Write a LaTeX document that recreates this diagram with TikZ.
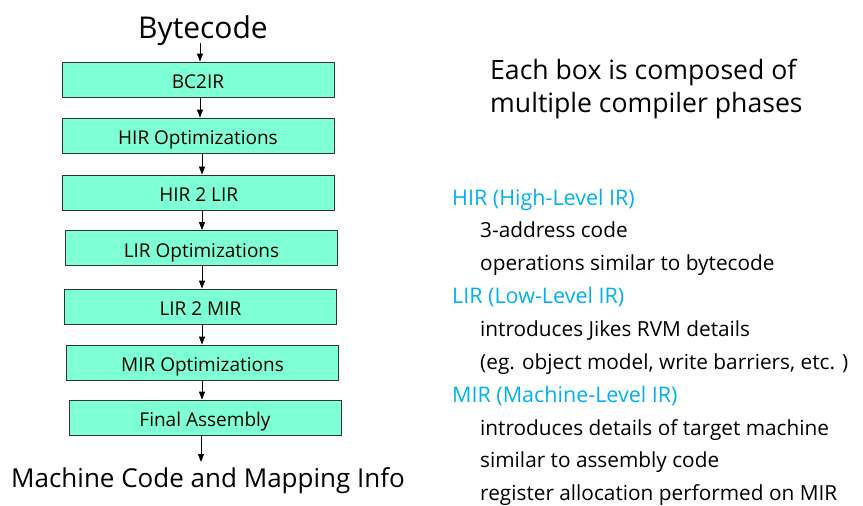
\documentclass[tikz,border=0pt]{standalone}
\usepackage{fontspec}
\setmainfont{Open Sans}
\usetikzlibrary{arrows.meta}
\definecolor{boxfill}{RGB}{127,255,212}
\definecolor{irblue}{RGB}{0,176,240}
\tikzset{
  phase/.style={draw=black!80, line width=0.8pt, fill=boxfill, minimum width=272pt,
    minimum height=35pt, inner sep=0pt, text height=22pt, text depth=4pt,
    font=\fontsize{19}{19}\selectfont},
  flow/.style={-{Triangle[length=8pt,width=6pt]}, line width=0.8pt},
  big/.style={inner sep=0pt, anchor=base, font=\fontsize{30}{30}\selectfont},
  note/.style={inner sep=0pt, anchor=base west, font=\fontsize{26.6}{26.6}\selectfont},
  irhead/.style={inner sep=0pt, anchor=base west, text=irblue, font=\fontsize{21.5}{21.5}\selectfont},
  irline/.style={inner sep=0pt, anchor=base west, font=\fontsize{20.8}{20.8}\selectfont},
}
\begin{document}
\begin{tikzpicture}[x=1pt, y=-1pt]
\useasboundingbox (0,0) rectangle (863,506);

% left column: compiler pipeline
\node[big] (bc) at (203,38) {Bytecode};
\node[phase] (b1) at (198,79.5) {BC2IR};
\node[phase] (b2) at (198,135.5) {HIR Optimizations};
\node[phase] (b3) at (198.7,192.5) {HIR 2 LIR};
\node[phase] (b4) at (201.5,248) {LIR Optimizations};
\node[phase] (b5) at (200.5,306.5) {LIR 2 MIR};
\node[phase] (b6) at (202.5,362.5) {MIR Optimizations};
\node[phase] (b7) at (205,417.5) {Final Assembly};
\node[big, font=\fontsize{26}{26}\selectfont] (mc) at (208,487) {Machine Code and Mapping Info};

\coordinate (a0) at (200,43);
\coordinate (ax) at (202,0);
\coordinate (aend) at (201,462);

\draw[flow] (a0) -- (b1.north -| a0);
\draw[flow] (b1.south -| a0) -- (b2.north -| a0);
\draw[flow] (b2.south -| ax) -- (b3.north -| ax);
\draw[flow] (b3.south -| ax) -- (b4.north -| ax);
\draw[flow] (b4.south -| ax) -- (b5.north -| ax);
\draw[flow] (b5.south -| ax) -- (b6.north -| ax);
\draw[flow] (b6.south -| ax) -- (b7.north -| ax);
\draw[flow] (b7.south -| aend) -- (aend);

% right column: notes
\node[note] (n1) at (490,79) {Each box is composed of};
\node[note] (n2) at (490,112) {multiple compiler phases};

\node[irhead] (h1) at (452,205) {HIR (High-Level IR)};
\node[irline] (l1) at (480,237.5) {3-address code};
\node[irline] (l2) at (480,270) {operations similar to bytecode};
\node[irhead] (h2) at (452,303) {LIR (Low-Level IR)};
\node[irline] (l3) at (480,336) {introduces Jikes RVM details};
\node[irline] (l4) at (480,369) {(eg. object model, write barriers, etc. )};
\node[irhead] (h3) at (452,402) {MIR (Machine-Level IR)};
\node[irline] (l5) at (480,435) {introduces details of target machine};
\node[irline] (l6) at (480,467) {similar to assembly code};
\node[irline] (l7) at (480,500) {register allocation performed on MIR};
\end{tikzpicture}
\end{document}
